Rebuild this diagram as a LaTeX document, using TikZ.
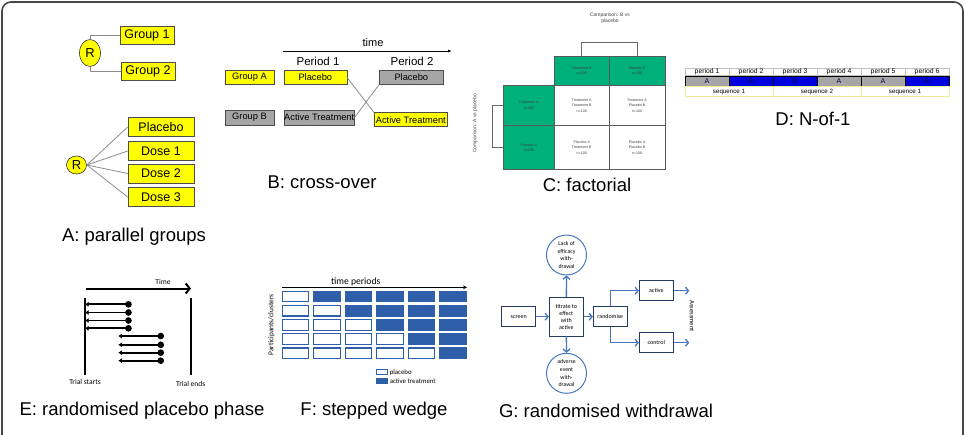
\documentclass[tikz,border=0pt]{standalone}
\usepackage{fontspec}
\setmainfont{Liberation Sans}
\newfontfamily\calibri{Carlito}
\usepackage{xcolor}
\definecolor{amarillo}{RGB}{255,255,0}
\definecolor{amarilloC}{RGB}{236,236,150}
\definecolor{grisCaja}{RGB}{166,166,166}
\definecolor{grisLinea}{RGB}{140,140,140}
\definecolor{grisMarco}{RGB}{70,70,70}
\definecolor{verde}{RGB}{0,176,122}
\definecolor{azulN}{RGB}{0,0,222}
\definecolor{azulF}{RGB}{46,95,168}
\definecolor{azulG}{RGB}{72,118,190}
\usepackage{tikz}
\usetikzlibrary{arrows,arrows.meta,shapes,calc,positioning}
\newcommand{\tam}[2]{\fontsize{#1}{#2}\selectfont}
\tikzstyle{marco} =[draw=grisMarco, line width=1.6pt, rounded corners=9pt]
\tikzstyle{panel} =[inner sep=0pt, font=\tam{18.5}{20}]
\tikzstyle{rnode} =[ellipse, draw=black!80, fill=amarillo, line width=0.6pt,
                    inner sep=0pt, font=\tam{13}{14}]
\tikzstyle{ybox}  =[rectangle, draw=black!70, fill=amarillo, line width=0.6pt,
                    inner sep=0pt]
\tikzstyle{gbox}  =[ybox, fill=grisCaja]
\tikzstyle{glink} =[draw=grisLinea, line width=0.8pt]
\tikzstyle{tarrow}=[line width=0.8pt, -{Latex[length=4pt,width=3pt]}]
\tikzstyle{cell}  =[rectangle, draw=black!65, line width=0.7pt, inner sep=0pt,
                    align=center, font=\tam{3.6}{5.4}, text=black!75]
\tikzstyle{dper}  =[rectangle, draw=black!25, line width=0.5pt, inner sep=0pt,
                    minimum width=44pt, minimum height=6.7pt, font=\tam{6.8}{7}]
\tikzstyle{dtrt}  =[rectangle, draw=black, line width=1pt, inner sep=0pt,
                    minimum width=44pt, minimum height=10.7pt, font=\tam{7}{8}]
\tikzstyle{dseq}  =[rectangle, draw=amarilloC, line width=0.8pt, inner sep=0pt,
                    minimum width=88pt, minimum height=10pt, font=\tam{6.2}{7}]
\tikzstyle{trial} =[line width=1.7pt, arrows={Latex[length=3.5pt,width=5pt]-Circle[length=6.5pt]}]
\tikzstyle{fcell} =[rectangle, draw=azulF, line width=1.2pt, inner sep=0pt,
                    minimum width=26.5pt, minimum height=10.5pt]
\tikzstyle{gbx}   =[rectangle, draw=black!50!azulG, line width=0.8pt, inner sep=0pt,
                    minimum width=34pt, minimum height=20pt, align=center,
                    font=\calibri\tam{6}{7.1}]
\tikzstyle{gcirc} =[circle, draw=azulG, line width=1pt, minimum size=40pt,
                    inner sep=0pt, align=center, font=\calibri\tam{5.8}{7.6}]
\tikzstyle{garrow}=[draw=azulG, line width=1.3pt, -{Straight Barb[length=3pt,width=7pt]}]

\begin{document}
\begin{tikzpicture}[x=1pt,y=-1pt]
    \useasboundingbox (0,0) rectangle (965,434);
    \draw[marco] (2,440) -- (2,2) -- (963,2) -- (963,440);

    %A: parallel groups
    \begin{scope}[font=\tam{12.5}{14}]
        \node (R1) [rnode, minimum width=21pt, minimum height=27pt] at (90,53) {R};
        \node (g1) [ybox, minimum width=54pt, minimum height=18pt] at (147,35.5) {Group 1};
        \node (g2) [ybox, minimum width=54pt, minimum height=18pt] at (148,71) {Group 2};
        \draw[glink] (R1.north) |- (g1.west);
        \draw[glink] (R1.south) |- (g2.west);

        \node (R2) [rnode, minimum width=20pt, minimum height=18pt] at (76.5,165) {R};
        \foreach \n/\t/\y in {pl/Placebo/127,d1/Dose 1/151,d2/Dose 2/173.5,d3/Dose 3/197}{
            \node (\n) [ybox, minimum width=66pt, minimum height=19pt] at (161,\y) {\t};
            \draw[glink] (R2.east) -- (\n.west);
        }
        \node (labA) [panel] at (134,237) {A: parallel groups};
    \end{scope}

    %B: cross-over
    \begin{scope}[font=\tam{9.3}{10}]
        \coordinate (t0) at (283,51);
        \coordinate (t1) at (452,51);
        \draw[tarrow] (t0) -- (t1);
        \node (tB) [font=\tam{11}{12}] at (373,43) {time};
        \node (per1) [font=\tam{11.5}{12}] at (318,61) {Period 1};
        \node (per2) [font=\tam{11.5}{12}] at (412,61) {Period 2};

        \node (gA) [ybox, minimum width=49pt, minimum height=14pt] at (249.5,77.5) {Group A};
        \node (plA1) [ybox, minimum width=63pt, minimum height=14pt] at (315.3,77.5) {Placebo};
        \node (plA2) [gbox, minimum width=64pt, minimum height=14pt] at (411.3,77.5) {Placebo};
        \node (gB) [gbox, minimum width=49pt, minimum height=15pt] at (249.5,117.5) {Group B};
        \node (atB1) [gbox, minimum width=70pt, minimum height=15pt] at (319.2,117.5) {Active Treatment};
        \node (atB2) [ybox, minimum width=73pt, minimum height=14pt] at (410.8,119.7) {Active Treatment};
        \draw[glink] (plA1.east) -- (atB2.north west);
        \draw[glink] (atB1.east) -- (plA2.south west);
        \node (labB) [panel] at (322,182) {B: cross-over};
    \end{scope}

    %C: factorial
    \begin{scope}
        \node (cmpB) [align=center, font=\tam{5}{5.8}, text=black!75] at (610,18) {Comparison: B vs\\placebo};
        \node (cTB) [cell, fill=verde, minimum width=54.7pt, minimum height=28.3pt] at (581.7,70.9) {Treatment B\\n=200};
        \node (cPB) [cell, fill=verde, minimum width=56pt, minimum height=28.3pt] at (637,70.9) {Placebo B\\n=200};
        \node (cTA) [cell, fill=verde, minimum width=51pt, minimum height=40.7pt] at (528.8,105.4) {Treatment A\\n=200};
        \node (cAB) [cell, minimum width=54.7pt, minimum height=40.7pt] at (581.7,105.4) {Treatment A\\Treatment B\\n=100};
        \node (cAP) [cell, minimum width=56pt, minimum height=40.7pt] at (637,105.4) {Treatment A\\Placebo B\\n=100};
        \node (cPA) [cell, fill=verde, minimum width=51pt, minimum height=43.6pt] at (528.8,147.5) {Placebo A\\n=200};
        \node (cPT) [cell, minimum width=54.7pt, minimum height=43.6pt] at (581.7,147.5) {Placebo A\\Treatment B\\n=100};
        \node (cPP) [cell, minimum width=56pt, minimum height=43.6pt] at (637,147.5) {Placebo A\\Placebo B\\n=100};
        \draw[draw=black!60, line width=0.7pt] (cTB.north) -- ++(0,-14.4) -| (cPB.north);
        \draw[draw=black!60, line width=0.7pt] (cTA.west) -- ++(-11,0) |- (cPA.west);
        \node (cmpA) [rotate=90, font=\tam{5}{6}, text=black!75] at (475,123.3) {Comparison: A vs placebo};
        \node (labC) [panel] at (587,185) {C: factorial};
    \end{scope}

    %D: N-of-1
    \begin{scope}
        \foreach \i in {1,...,6}
            \node (per\i) [dper] at ({663+44*\i},71.7) {period \i};
        \foreach \i/\c/\t in {1/grisCaja/A,2/azulN/B,3/azulN/B,4/grisCaja/A,5/grisCaja/A,6/azulN/B}
            \node (trt\i) [dtrt, fill=\c, text=black!70!azulN] at ({663+44*\i},81.4) {\t};
        \foreach \i/\t in {1/sequence 1,2/sequence 2,3/sequence 1}
            \node (seq\i) [dseq] at ({641+88*\i},91.8) {\t};
        \node (labD) [panel] at (813,118.5) {D: N-of-1};
    \end{scope}

    %E: randomised placebo phase
    \begin{scope}[font=\calibri\tam{7.5}{8}]
        \node (timeE) at (163,282) {Time};
        \coordinate (te0) at (86,288.5);
        \coordinate (te1) at (191,288.5);
        \draw[line width=2pt, -{Straight Barb[length=4pt,width=10pt]}] (te0) -- (te1);
        \node (startE) at (85,382) {Trial starts};
        \node (endE) at (190.7,383.5) {Trial ends};
        \coordinate (sTop) at (85,298);
        \coordinate (eTop) at (190.7,298);
        \draw[line width=2pt] (sTop) -- (startE.north |- 0,374.5);
        \draw[line width=2pt] (eTop) -- (endE.north |- 0,374.5);
        \foreach \y [count=\i] in {304.3,312.5,320.5,328.3}{
            \coordinate (ea\i) at (85,\y);
            \coordinate (eb\i) at (131.7,\y);
            \draw[trial] (ea\i) -- (eb\i);
        }
        \foreach \y [count=\i] in {336,344.8,352.7,360.7}{
            \coordinate (ec\i) at (118.3,\y);
            \coordinate (ed\i) at (164,\y);
            \draw[trial] (ec\i) -- (ed\i);
        }
        \node (labE) [panel] at (142,410.7) {E: randomised placebo phase};
    \end{scope}

    %F: stepped wedge
    \begin{scope}[font=\calibri]
        \node (tper) [font=\calibri\tam{9.6}{10}] at (355.7,282) {time periods};
        \coordinate (tf0) at (281.7,287.3);
        \coordinate (tf1) at (467,287.3);
        \draw[line width=1.2pt, -{Stealth[length=4pt,width=4pt]}] (tf0) -- (tf1);
        \node (part) [rotate=90, font=\calibri\tam{7.4}{8}] at (271.5,325) {Participants/clusters};
        \foreach \r in {1,...,5}
            \foreach \c in {1,...,6}{
                \ifnum\c>\r
                    \node (f\r\c) [fcell, fill=azulF] at ({295.45+31.5*(\c-1)},{296.5+14.2*(\r-1)}) {};
                \else
                    \node (f\r\c) [fcell, fill=white] at ({295.45+31.5*(\c-1)},{296.5+14.2*(\r-1)}) {};
                \fi
            }
        \node (legW) [rectangle, draw=azulF, line width=1pt, fill=white, minimum width=11pt, minimum height=4.5pt, inner sep=0pt] at (381.8,372.2) {};
        \node (legB) [rectangle, draw=azulF, line width=1pt, fill=azulF, minimum width=11pt, minimum height=4.5pt, inner sep=0pt] at (381.8,380.8) {};
        \node (legWt) [right=1.8pt of legW, inner sep=0pt, font=\calibri\tam{6.8}{7}] {placebo};
        \node (legBt) [right=1.8pt of legB, inner sep=0pt, font=\calibri\tam{6.8}{7}] {active treatment};
        \node (labF) [panel, font=\tam{18.5}{20}] at (374,410.7) {F: stepped wedge};
    \end{scope}

    %G: randomised withdrawal
    \begin{scope}
        \node (scr) [gbx] at (518.7,316.7) {screen};
        \node (tit) [gbx, minimum height=38.7pt] at (566.3,316.7) {titrate to\\effect\\with\\active};
        \node (lack) [gcirc] at (566.5,255) {Lack of\\efficacy\\with-\\drawal};
        \node (adv) [gcirc] at (566.5,373.3) {adverse\\event\\with-\\drawal};
        \node (rnd) [gbx] at (610.3,316.7) {randomise};
        \node (act) [gbx] at (656.3,290.7) {active};
        \node (ctl) [gbx] at (656.3,342.7) {control};
        \coordinate (actEnd) at (689.3,290.7);
        \coordinate (ctlEnd) at (689.3,342.7);
        \draw[garrow] (scr) -- (tit);
        \draw[garrow] (tit) -- (lack);
        \draw[garrow] (tit) -- (adv);
        \draw[garrow] (tit) -- (rnd);
        \draw[garrow] (rnd.north) |- (act.west);
        \draw[garrow] (rnd.south) |- (ctl.west);
        \draw[garrow] (act) -- (actEnd);
        \draw[garrow] (ctl) -- (ctlEnd);
        \node (asmt) [rotate=-90, font=\calibri\tam{6.6}{7}] at (692,316) {Assessment};
        \node (labG) [panel] at (606,410.7) {G: randomised withdrawal};
    \end{scope}

\end{tikzpicture}
\end{document}
